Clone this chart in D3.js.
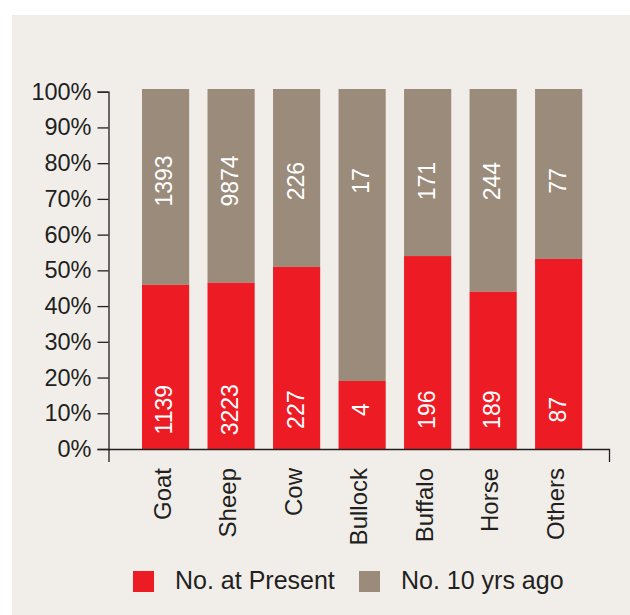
<!DOCTYPE html>
<html>
<head>
<meta charset="utf-8">
<script src="https://cdn.jsdelivr.net/npm/d3@7"></script>
<style>
  html, body { margin: 0; padding: 0; background: #ffffff; }
  svg { display: block; font-family: "Liberation Sans", Arial, Helvetica, sans-serif; }
</style>
</head>
<body>
<div id="chart"></div>
<script>
// Chart data
const animals = ['Goat', 'Sheep', 'Cow', 'Bullock', 'Buffalo', 'Horse', 'Others'];
const presentCount = [1139, 3223, 227, 4, 196, 189, 87];
const pastCount = [1393, 9874, 226, 17, 171, 244, 77];
// share of "No. at Present" in each bar (%), as drawn
const presentShare = [45.6, 46.2, 50.6, 18.9, 53.6, 43.7, 52.8];
const yTicks = [0, 10, 20, 30, 40, 50, 60, 70, 80, 90, 100];
const seriesNames = ['No. at Present', 'No. 10 yrs ago'];

const colors = { present: '#ed1c24', past: '#9b8b7b', text: '#231f20', panel: '#f1eeea' };

const width = 630;
const height = 615;

const svg = d3
  .select('#chart')
  .append('svg')
  .attr('width', width)
  .attr('height', height);

// Panel background
svg
  .append('rect')
  .attr('x', 12)
  .attr('y', 15)
  .attr('width', width - 12)
  .attr('height', height - 15)
  .attr('fill', colors.panel);

// Scales
const x = d3
  .scaleBand()
  .domain(animals)
  .range([108.5, 609])
  .paddingInner(0.28)
  .paddingOuter(0.46)
  .align(0.556);

const y = d3.scaleLinear().domain([0, 100]).range([449, 91.7]);
// bars run a touch above the 100% tick in the original
const yBar = y.copy().range([449, 89]);

const rows = animals.map((a, i) => ({
  animal: a,
  present: presentCount[i],
  past: pastCount[i],
  share: presentShare[i],
}));

// Bars: past (full height) then present on top
svg
  .selectAll('.bar-past')
  .data(rows)
  .enter()
  .append('rect')
  .attr('class', 'bar-past')
  .attr('x', (d) => x(d.animal))
  .attr('width', x.bandwidth())
  .attr('y', yBar(100))
  .attr('height', (d) => yBar(d.share) - yBar(100))
  .attr('fill', colors.past);

svg
  .selectAll('.bar-present')
  .data(rows)
  .enter()
  .append('rect')
  .attr('class', 'bar-present')
  .attr('x', (d) => x(d.animal))
  .attr('width', x.bandwidth())
  .attr('y', (d) => yBar(d.share))
  .attr('height', (d) => yBar(0) - yBar(d.share))
  .attr('fill', colors.present);

// Value labels inside bars
const labelFont = '23px';

svg
  .selectAll('.lbl-present')
  .data(rows)
  .enter()
  .append('text')
  .attr('class', 'lbl-present')
  .attr('transform', (d) => `translate(${x(d.animal) + x.bandwidth() / 2},${y(11)}) rotate(-90)`)
  .attr('text-anchor', 'middle')
  .attr('dy', '0.3em')
  .attr('fill', '#ffffff')
  .style('font-size', labelFont)
  .text((d) => d.present);

svg
  .selectAll('.lbl-past')
  .data(rows)
  .enter()
  .append('text')
  .attr('class', 'lbl-past')
  .attr('transform', (d) => `translate(${x(d.animal) + x.bandwidth() / 2},${y(75)}) rotate(-90)`)
  .attr('text-anchor', 'middle')
  .attr('dy', '0.3em')
  .attr('fill', '#ffffff')
  .style('font-size', labelFont)
  .text((d) => d.past);

// Y axis
const yAxis = svg
  .append('g')
  .attr('transform', `translate(${x.range()[0]},0)`)
  .call(
    d3
      .axisLeft(y)
      .tickValues(yTicks)
      .tickFormat((d) => d + '%')
      .tickSize(11)
      .tickPadding(6),
  );

yAxis.selectAll('path, line').attr('stroke', colors.text).attr('stroke-width', 1.3);
yAxis
  .selectAll('text')
  .attr('fill', colors.text)
  .style('font-size', '23.5px')
  .style('font-family', '"Liberation Sans", Arial, sans-serif');

// X axis
const xAxis = svg
  .append('g')
  .attr('transform', `translate(0,${y(0)})`)
  .call(d3.axisBottom(x).tickSizeInner(0).tickSizeOuter(13));

xAxis.selectAll('path, line').attr('stroke', colors.text).attr('stroke-width', 1.3);
xAxis
  .selectAll('text')
  .attr('transform', 'rotate(-90)')
  .attr('x', -19)
  .attr('y', 0)
  .attr('dy', '0.22em')
  .attr('text-anchor', 'end')
  .attr('fill', colors.text)
  .style('font-size', '24px')
  .style('font-family', '"Liberation Sans", Arial, sans-serif');

// Legend
const legendItems = [
  { name: seriesNames[0], color: colors.present, x: 133 },
  { name: seriesNames[1], color: colors.past, x: 359 },
];

const legend = svg
  .selectAll('.legend')
  .data(legendItems)
  .enter()
  .append('g')
  .attr('class', 'legend')
  .attr('transform', (d) => `translate(${d.x},571)`);

legend
  .append('rect')
  .attr('width', 21)
  .attr('height', 21)
  .attr('fill', (d) => d.color);

legend
  .append('text')
  .attr('x', 42)
  .attr('y', 17.5)
  .attr('fill', colors.text)
  .style('font-size', '25px')
  .text((d) => d.name);
</script>
</body>
</html>
